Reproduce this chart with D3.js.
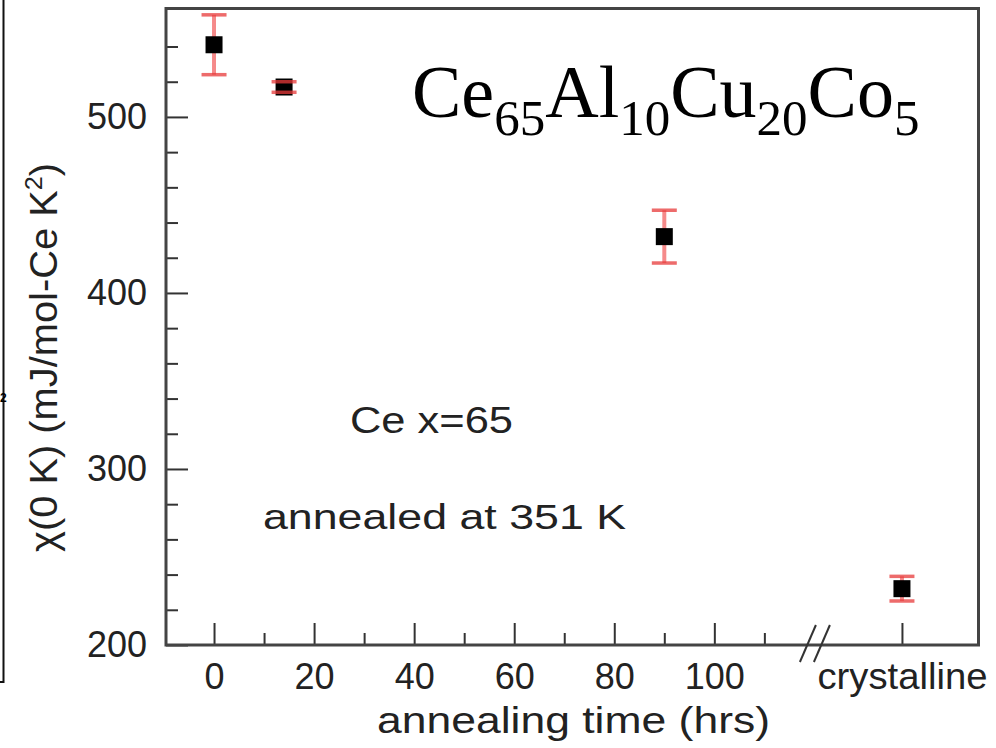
<!DOCTYPE html>
<html>
<head>
<meta charset="utf-8">
<script src="https://cdn.jsdelivr.net/npm/d3@7"></script>
<style>
  body { margin: 0; background: #fff; }
  svg { display: block; }
  .tick text { font-family: "Liberation Sans", Arial, sans-serif; fill: #222; }
</style>
</head>
<body>
<svg id="chart" width="996" height="748"></svg>
<script>
// annealed samples
const times = [0, 14, 90];
const gammaAnnealed = [541, 517, 432];
const errAnnealed = [17, 3, 15];
// crystalline reference sample
const crystalLabel = "crystalline";
const gammaCrystal = 232;
const errCrystal = 7;

// tick values
const xTicksMajor = [0, 20, 40, 60, 80, 100];
const xTicksMinor = [10, 30, 50, 70, 90, 110];
const yTicksMajor = [200, 300, 400, 500];
const yTicksMinor = [220, 240, 260, 280, 320, 340, 360, 380, 420, 440, 460, 480, 520, 540];

// where the broken axis puts the crystalline point
const crystalPos = 137.5;
const breakPos = 120.3;

let svg = d3.select("#chart");

let plot = { left: 166, right: 978.5, top: 8.5, bottom: 645 };

let x = d3.scaleLinear().domain([-9.6, 152.8]).range([plot.left, plot.right]);
let y = d3.scaleLinear().domain([200, 561.6]).range([plot.bottom, plot.top]);

// stray frame from the neighbouring panel
svg.append("path")
  .attr("d", "M3.5,0 V682 H0")
  .attr("fill", "none")
  .attr("stroke", "#111")
  .attr("stroke-width", 2);
svg.append("text")
  .attr("x", 0).attr("y", 402)
  .attr("font-family", "Liberation Sans, Arial, sans-serif")
  .attr("font-weight", "bold")
  .attr("font-size", 12)
  .text("2");

// x axis: major (with labels), minor, crystalline
let xMajor = svg.append("g")
  .attr("transform", "translate(0," + plot.bottom + ")")
  .call(d3.axisBottom(x)
    .tickValues(xTicksMajor.concat([crystalPos]))
    .tickSize(-22)
    .tickPadding(18)
    .tickFormat((d) => (d === crystalPos ? crystalLabel : d)));
xMajor.selectAll("text").attr("font-size", 36);
xMajor.selectAll("text").filter((d) => d === crystalPos)
  .attr("textLength", 170)
  .attr("lengthAdjust", "spacingAndGlyphs");

let xMinor = svg.append("g")
  .attr("transform", "translate(0," + plot.bottom + ")")
  .call(d3.axisBottom(x).tickValues(xTicksMinor).tickSize(-12).tickFormat(""));

// y axis
let yMajor = svg.append("g")
  .attr("transform", "translate(" + plot.left + ",0)")
  .call(d3.axisLeft(y).tickValues(yTicksMajor).tickSize(-22).tickPadding(19));
yMajor.selectAll("text").attr("font-size", 36);

let yMinor = svg.append("g")
  .attr("transform", "translate(" + plot.left + ",0)")
  .call(d3.axisLeft(y).tickValues(yTicksMinor).tickSize(-12).tickFormat(""));

svg.selectAll(".domain").remove();
svg.selectAll(".tick line").attr("stroke", "#333").attr("stroke-width", 2);

// frame
svg.append("rect")
  .attr("x", plot.left).attr("y", plot.top)
  .attr("width", plot.right - plot.left)
  .attr("height", plot.bottom - plot.top)
  .attr("fill", "none")
  .attr("stroke", "#444")
  .attr("stroke-width", 3);

// axis break marks
let bx = x(breakPos);
[-8, 6].forEach(function (off) {
  svg.append("line")
    .attr("x1", bx + off - 8).attr("y1", plot.bottom + 17)
    .attr("x2", bx + off + 8).attr("y2", plot.bottom - 20)
    .attr("stroke", "#333")
    .attr("stroke-width", 2);
});

// data
let points = times.map((t, i) => ({ x: t, y: gammaAnnealed[i], e: errAnnealed[i] }));
points.push({ x: crystalPos, y: gammaCrystal, e: errCrystal });

let marker = 17, cap = 25;

// error bar stems behind the markers
svg.append("g").selectAll("line")
  .data(points)
  .enter()
  .append("line")
  .attr("x1", (d) => x(d.x)).attr("x2", (d) => x(d.x))
  .attr("y1", (d) => y(d.y + d.e)).attr("y2", (d) => y(d.y - d.e))
  .attr("stroke", "#f58a8a")
  .attr("stroke-width", 4);

svg.append("g").selectAll("rect")
  .data(points)
  .enter()
  .append("rect")
  .attr("x", (d) => x(d.x) - marker / 2)
  .attr("y", (d) => y(d.y) - marker / 2)
  .attr("width", marker)
  .attr("height", marker)
  .attr("fill", "#000");

// caps on top
let caps = [];
points.forEach((d) => {
  caps.push({ x: d.x, y: d.y + d.e });
  caps.push({ x: d.x, y: d.y - d.e });
});
svg.append("g").attr("opacity", 0.75).selectAll("line")
  .data(caps)
  .enter()
  .append("line")
  .attr("x1", (d) => x(d.x) - cap / 2).attr("x2", (d) => x(d.x) + cap / 2)
  .attr("y1", (d) => y(d.y)).attr("y2", (d) => y(d.y))
  .attr("stroke", "#e83a3a")
  .attr("stroke-width", 3.5);

// axis titles
svg.append("text")
  .attr("x", 377).attr("y", 733)
  .attr("font-family", "Liberation Sans, Arial, sans-serif")
  .attr("font-size", 37)
  .attr("fill", "#222")
  .attr("textLength", 393)
  .attr("lengthAdjust", "spacingAndGlyphs")
  .text("annealing time (hrs)");

let yTitle = svg.append("text")
  .attr("transform", "translate(57,552) rotate(-90)")
  .attr("font-family", "Liberation Sans, Arial, sans-serif")
  .attr("font-size", 38)
  .attr("fill", "#222")
  .attr("textLength", 389)
  .attr("lengthAdjust", "spacingAndGlyphs");
yTitle.append("tspan").text("χ(0 K) (mJ/mol-Ce K");
yTitle.append("tspan").attr("font-size", 24).attr("dy", -15).text("2");
yTitle.append("tspan").attr("dy", 15).text(")");

// annotations
svg.append("text")
  .attr("x", 350).attr("y", 433)
  .attr("font-family", "Liberation Sans, Arial, sans-serif")
  .attr("font-size", 36)
  .attr("fill", "#222")
  .attr("textLength", 163)
  .attr("lengthAdjust", "spacingAndGlyphs")
  .text("Ce x=65");

svg.append("text")
  .attr("x", 263).attr("y", 529)
  .attr("font-family", "Liberation Sans, Arial, sans-serif")
  .attr("font-size", 35)
  .attr("fill", "#222")
  .attr("textLength", 363)
  .attr("lengthAdjust", "spacingAndGlyphs")
  .text("annealed at 351 K");

// composition label
let title = svg.append("text")
  .attr("x", 412).attr("y", 117)
  .attr("font-family", "Liberation Serif, Times New Roman, serif")
  .attr("font-size", 74)
  .attr("fill", "#000");
[["Ce", "65"], ["Al", "10"], ["Cu", "20"], ["Co", "5"]].forEach(function (p, i) {
  title.append("tspan").attr("font-size", 74).attr("dy", i === 0 ? 0 : -18).text(p[0]);
  title.append("tspan").attr("font-size", 51).attr("dy", 18).text(p[1]);
});
</script>
</body>
</html>
